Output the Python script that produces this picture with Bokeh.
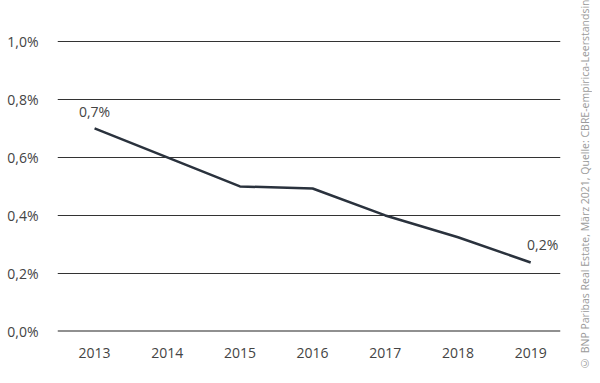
from bokeh.plotting import figure
from bokeh.layouts import row
from bokeh.models import ColumnDataSource, Span, FixedTicker, CustomJSTickFormatter, Range1d, Div
from bokeh.embed import file_html
from bokeh.resources import INLINE
from bokeh.core.properties import value

years = [2013, 2014, 2015, 2016, 2017, 2018, 2019]
rates = [0.70, 0.60, 0.50, 0.493, 0.40, 0.325, 0.238]
y_ticks = [0.0, 0.2, 0.4, 0.6, 0.8, 1.0]
first_label = "0,7%"
last_label = "0,2%"
source_note = "© BNP Paribas Real Estate, März 2021, Quelle: CBRE-empirica-Leerstandsindex"

FONT = "Open Sans"

p = figure(width=570, height=383, output_backend="svg", toolbar_location=None,
           x_range=Range1d(2012.49, 2019.41), y_range=Range1d(0, 1.003),
           min_border_left=57, min_border_right=10, min_border_top=40, min_border_bottom=52)
p.outline_line_color = None
p.background_fill_color = "white"
p.border_fill_color = "white"

p.xgrid.grid_line_color = None
p.ygrid.grid_line_color = "#333333"
p.ygrid.grid_line_width = 1
p.ygrid.ticker = FixedTicker(ticks=y_ticks)

p.yaxis.ticker = FixedTicker(ticks=y_ticks)
p.yaxis.formatter = CustomJSTickFormatter(code="return tick.toFixed(1).replace('.', ',') + '%';")
p.xaxis.ticker = FixedTicker(ticks=years)
p.xaxis.formatter = CustomJSTickFormatter(code="return tick.toFixed(0);")
for ax in (p.xaxis, p.yaxis):
    ax.axis_line_color = None
    ax.major_tick_line_color = None
    ax.minor_tick_line_color = None
    ax.major_label_text_font = FONT
    ax.major_label_text_font_size = "14px"
    ax.major_label_text_color = "#444444"
p.yaxis.major_label_standoff = 13
p.xaxis.major_label_standoff = 10

p.add_layout(Span(location=0, dimension="width", line_color="#222222", line_width=2))

src = ColumnDataSource(dict(x=years, y=rates))
p.line("x", "y", source=src, line_color="#2a323d", line_width=2.5)

p.text(x=[years[0]], y=[rates[0]], text=[first_label], text_font=value(FONT), text_font_size="14px",
       text_color="#444444", text_align="center", text_baseline="bottom", y_offset=-7)
p.text(x=[years[-1]], y=[rates[-1]], text=[last_label], text_font=value(FONT), text_font_size="14px",
       text_color="#444444", text_align="center", text_baseline="bottom", x_offset=12, y_offset=-8)

note = Div(width=30, height=383, margin=(0, 0, 0, 0),
           text=('<div style="writing-mode: vertical-rl; transform: rotate(180deg); '
                 'height: 370px; width: 16px; line-height: 16px; overflow: hidden; '
                 'white-space: nowrap; margin-left: 7px; font-family: \'Open Sans\'; '
                 'font-size: 10.5px; color: #9a9a9a;">' + source_note + '</div>'))

layout = row(p, note, spacing=0)

open("out.html", "w", encoding="utf-8").write(file_html(layout, INLINE))
